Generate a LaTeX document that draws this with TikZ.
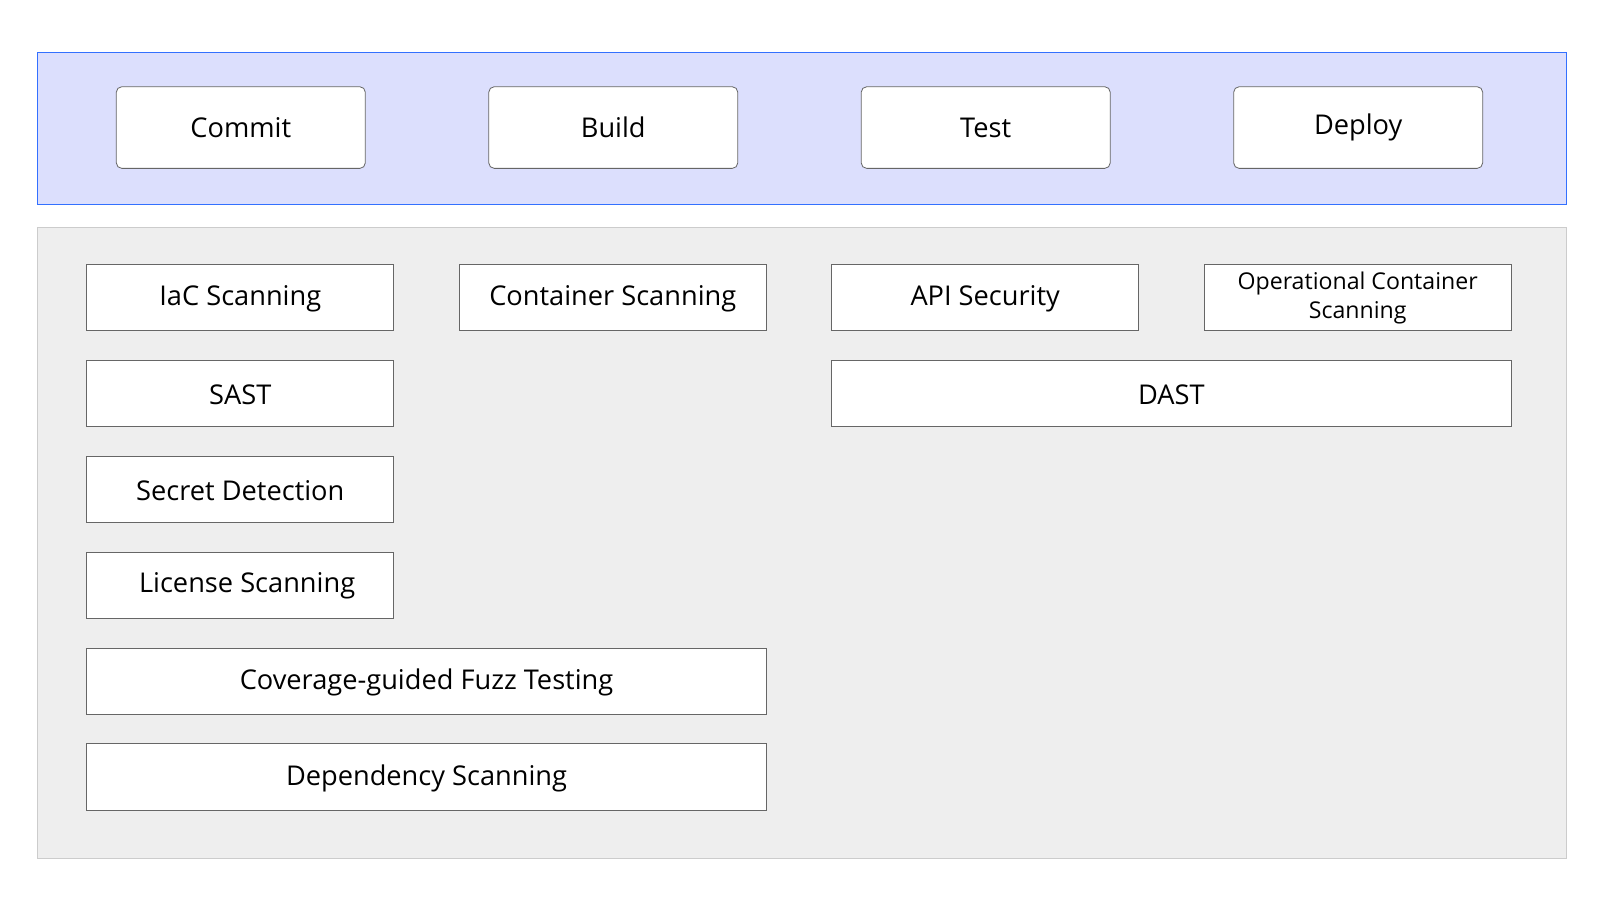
\documentclass[tikz,border=0pt]{standalone}
\usepackage{fontspec}
\setmainfont{Open Sans}
\begin{document}
\begin{tikzpicture}[x=0.75pt,y=-0.75pt,
 stage/.style={draw=black!60,fill=white,rounded corners=4pt,line width=0.6pt},
 tool/.style={draw=black!60,fill=white,line width=0.6pt},
 lbl/.style={font=\fontsize{20}{24}\selectfont,align=center}]
\useasboundingbox (0,0) rectangle (1568,882);
\fill[white] (0,0) rectangle (1568,882);
\draw[draw=blue!70!cyan!80,fill={rgb,255:red,220;green,223;blue,253},line width=0.7pt] (37,51) rectangle (1535,200);
\draw[draw=black!20,fill={rgb,255:red,238;green,238;blue,238},line width=0.7pt] (37,223) rectangle (1535,841);
\foreach \n/\x/\t in {commit/114/Commit,build/479/Build,test/844/Test,deploy/1209/Deploy}{
  \draw[stage] (\x,85) rectangle ++(244,80);
  \node[lbl] (\n) at (\x+122,125) {\t};
}
\newcommand{\toolbox}[6]{\draw[tool] (#2,#3) rectangle (#4,#5);
  \node[lbl] (#1) at ({(#2+#4)/2},{(#3+#5)/2+1}) {#6};}
\toolbox{iac}{85}{259}{386}{324}{IaC Scanning}
\toolbox{cont}{450}{259}{751}{324}{Container Scanning}
\toolbox{api}{815}{259}{1116}{324}{API Security}
\draw[tool] (1180,259) rectangle (1481,324);
\node[font=\fontsize{17}{21}\selectfont,align=center] (opc) at (1330.5,292) {Operational Container\\Scanning};
\toolbox{sast}{85}{353}{386}{418}{SAST}
\toolbox{dast}{815}{353}{1481}{418}{DAST}
\toolbox{secret}{85}{447}{386}{512}{Secret Detection}
\toolbox{lic}{85}{541}{386}{606}{\hspace*{10pt}License Scanning}
\toolbox{fuzz}{85}{635}{751}{700}{Coverage-guided Fuzz Testing}
\toolbox{dep}{85}{729}{751}{794}{Dependency Scanning}
\end{tikzpicture}
\end{document}
